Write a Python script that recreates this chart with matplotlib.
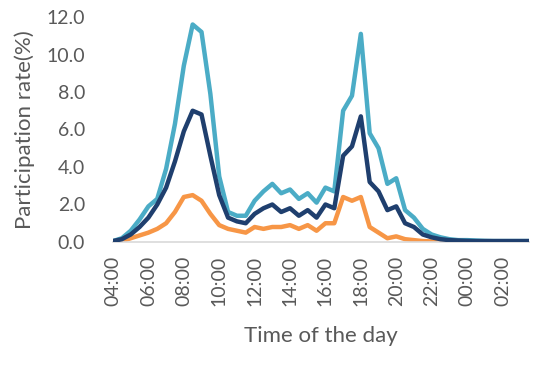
import matplotlib.pyplot as plt

# half-hourly slots from 04:00 to 03:30 the next day
times = [f"{(4 + i // 2) % 24:02d}:{30 * (i % 2):02d}" for i in range(48)]

light_blue = [0.05, 0.2, 0.6, 1.2, 1.9, 2.3, 3.9, 6.3, 9.4, 11.6,
              11.2, 7.9, 3.5, 1.6, 1.4, 1.4, 2.2, 2.7, 3.1, 2.6,
              2.8, 2.3, 2.6, 2.1, 2.9, 2.7, 7.0, 7.8, 11.1, 5.8,
              5.0, 3.1, 3.4, 1.7, 1.3, 0.7, 0.4, 0.25, 0.15, 0.1,
              0.1, 0.08, 0.06, 0.05, 0.05, 0.05, 0.05, 0.05]
navy = [0.05, 0.15, 0.4, 0.8, 1.3, 2.0, 2.9, 4.3, 5.9, 7.0,
        6.8, 4.6, 2.5, 1.3, 1.1, 1.0, 1.5, 1.8, 2.0, 1.6,
        1.8, 1.4, 1.7, 1.3, 2.0, 1.8, 4.6, 5.1, 6.7, 3.2,
        2.7, 1.7, 1.9, 1.0, 0.8, 0.4, 0.25, 0.15, 0.1, 0.08,
        0.06, 0.05, 0.05, 0.05, 0.05, 0.05, 0.05, 0.05]
orange = [0.0, 0.05, 0.2, 0.35, 0.5, 0.7, 1.0, 1.6, 2.4, 2.5,
          2.2, 1.5, 0.9, 0.7, 0.6, 0.5, 0.8, 0.7, 0.8, 0.8,
          0.9, 0.7, 0.9, 0.6, 1.0, 1.0, 2.4, 2.2, 2.4, 0.8,
          0.5, 0.2, 0.3, 0.15, 0.1, 0.05, 0.03, 0.02, 0.02, 0.02,
          0.02, 0.02, 0.02, 0.02, 0.02, 0.02, 0.02, 0.02]

yticks = [0, 2, 4, 6, 8, 10, 12]

plt.rcParams['font.family'] = ['Lato', 'DejaVu Sans']
grey = '#595959'

fig = plt.figure(figsize=(5.44, 3.76), dpi=100)
ax = fig.add_axes([113 / 544, 1 - 242 / 376, (529 - 113) / 544, (242 - 17) / 376])

x = list(range(len(times)))
ax.plot(x, light_blue, color='#4BACC6', lw=3.2, solid_joinstyle='round', zorder=3)
ax.plot(x, navy, color='#1F3F6E', lw=3.2, solid_joinstyle='round', zorder=4)
ax.plot(x, orange, color='#F79646', lw=3.2, solid_joinstyle='round', zorder=2)

ax.set_xlim(0, len(times) - 1)
ax.set_ylim(0, 12)
ax.set_yticks(yticks)
ax.set_yticklabels([f"{v:.1f}" for v in yticks])
ax.set_xticks(x[::4])
ax.set_xticklabels(times[::4], rotation=90)
ax.tick_params(axis='both', length=0, labelsize=14, colors=grey)
ax.tick_params(axis='y', pad=20)
ax.tick_params(axis='x', pad=10)

for side in ['top', 'right', 'left']:
    ax.spines[side].set_visible(False)
ax.spines['bottom'].set_color('#D9D9D9')
ax.spines['bottom'].set_linewidth(1.2)

ax.set_xlabel('Time of the day', fontsize=16, color=grey, labelpad=14)
ax.set_ylabel('Participation rate(%)', fontsize=16, color=grey, labelpad=8)

fig.savefig('out.png', dpi=100)
